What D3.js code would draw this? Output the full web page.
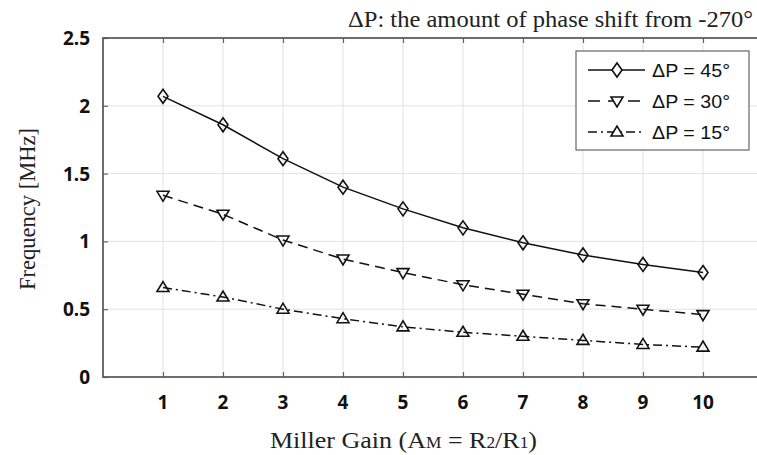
<!DOCTYPE html>
<html>
<head>
<meta charset="utf-8">
<script src="https://cdn.jsdelivr.net/npm/d3@7"></script>
<style>
	body { margin: 0; background: #fff; }
	.tick-label { font-family: "Noto Sans", sans-serif; font-weight: bold; font-size: 19px; fill: #111; }
	.serif { font-family: "Liberation Serif", serif; fill: #222; }
	.legend-text { font-family: "Liberation Sans", Arial, sans-serif; font-size: 19px; fill: #111; }
</style>
</head>
<body>
<div id="graph"></div>
<script>
const gains = [1, 2, 3, 4, 5, 6, 7, 8, 9, 10];
const dp45 = [2.07, 1.86, 1.61, 1.40, 1.24, 1.10, 0.99, 0.90, 0.83, 0.77];
const dp30 = [1.34, 1.20, 1.01, 0.87, 0.77, 0.68, 0.61, 0.54, 0.50, 0.46];
const dp15 = [0.66, 0.59, 0.50, 0.43, 0.37, 0.33, 0.30, 0.27, 0.24, 0.22];
const yTicks = [0, 0.5, 1, 1.5, 2, 2.5];
const seriesNames = ["\u0394P = 45\u00b0", "\u0394P = 30\u00b0", "\u0394P = 15\u00b0"];

const W = 757, H = 455;
const xScale = d3.scaleLinear().domain([0, 11]).range([103, 763]);
const yScale = d3.scaleLinear().domain([0, 2.5]).range([377, 38]);

const svg = d3.select("#graph").append("svg")
	.attr("width", W)
	.attr("height", H);

// grid
svg.append("g").selectAll("line")
	.data(gains)
	.enter().append("line")
	.attr("x1", d => xScale(d)).attr("x2", d => xScale(d))
	.attr("y1", yScale(0)).attr("y2", yScale(2.5))
	.attr("stroke", "#e2e2e2").attr("stroke-width", 1);

svg.append("g").selectAll("line")
	.data(yTicks.slice(1, -1))
	.enter().append("line")
	.attr("x1", xScale(0)).attr("x2", xScale(11))
	.attr("y1", d => yScale(d)).attr("y2", d => yScale(d))
	.attr("stroke", "#e2e2e2").attr("stroke-width", 1);

// axes: d3 axes for the tick marks, labels drawn separately
const xAxisB = d3.axisBottom(xScale).tickValues(gains).tickSize(-5).tickFormat("");
const xAxisT = d3.axisTop(xScale).tickValues(gains).tickSize(-5).tickFormat("");
const yAxisL = d3.axisLeft(yScale).tickValues(yTicks).tickSize(-5).tickFormat("");
const yAxisR = d3.axisRight(yScale).tickValues(yTicks).tickSize(-5).tickFormat("");

function styleAxis(g) {
	g.select(".domain").remove();
	g.selectAll(".tick line").attr("stroke", "#666").attr("stroke-width", 1.2);
}

svg.append("g").attr("transform", "translate(0," + yScale(0) + ")").call(xAxisB).call(styleAxis);
svg.append("g").attr("transform", "translate(0," + yScale(2.5) + ")").call(xAxisT).call(styleAxis);
svg.append("g").attr("transform", "translate(" + xScale(0) + ",0)").call(yAxisL).call(styleAxis);
svg.append("g").attr("transform", "translate(" + xScale(11) + ",0)").call(yAxisR).call(styleAxis);

svg.append("rect")
	.attr("x", xScale(0)).attr("y", yScale(2.5))
	.attr("width", xScale(11) - xScale(0)).attr("height", yScale(0) - yScale(2.5))
	.attr("fill", "none").attr("stroke", "#555").attr("stroke-width", 1.7);

// tick labels
svg.append("g").selectAll("text")
	.data(gains)
	.enter().append("text")
	.attr("class", "tick-label")
	.attr("x", d => xScale(d))
	.attr("y", 409)
	.attr("text-anchor", "middle")
	.text(d => d);

svg.append("g").selectAll("text")
	.data(yTicks)
	.enter().append("text")
	.attr("class", "tick-label")
	.attr("x", 90)
	.attr("y", d => yScale(d) + 7)
	.attr("text-anchor", "end")
	.text(d => d);

// series
const series = [
	{name: seriesNames[0], values: dp45, dash: null, legendDash: null, marker: "diamond"},
	{name: seriesNames[1], values: dp30, dash: "10,6", legendDash: "12,8", marker: "down"},
	{name: seriesNames[2], values: dp15, dash: "9,4,2,4", legendDash: "9,4,2,4", marker: "up"}
];

function markerPath(type) {
	if (type === "diamond") return "M0,-7L5,0L0,7L-5,0Z";
	if (type === "down") return "M-6,-4L6,-4L0,6Z";
	return "M-6,4L6,4L0,-6Z";
}

const line = d3.line()
	.x((d, i) => xScale(gains[i]))
	.y(d => yScale(d));

series.forEach(s => {
	svg.append("path")
		.datum(s.values)
		.attr("d", line)
		.attr("fill", "none")
		.attr("stroke", "#111")
		.attr("stroke-width", 1.5)
		.attr("stroke-dasharray", s.dash);

	svg.append("g").selectAll("path")
		.data(s.values)
		.enter().append("path")
		.attr("d", markerPath(s.marker))
		.attr("transform", (d, i) => "translate(" + xScale(gains[i]) + "," + yScale(d) + ")")
		.attr("fill", "none")
		.attr("stroke", "#111")
		.attr("stroke-width", 1.6);
});

// legend
const legend = svg.append("g");
legend.append("rect")
	.attr("x", 576).attr("y", 51)
	.attr("width", 173).attr("height", 99)
	.attr("fill", "#fff")
	.attr("stroke", "#666")
	.attr("stroke-width", 1.2);

series.forEach((s, i) => {
	const y = 70 + i * 31;
	legend.append("line")
		.attr("x1", 588).attr("x2", 645)
		.attr("y1", y).attr("y2", y)
		.attr("stroke", "#111")
		.attr("stroke-width", 1.5)
		.attr("stroke-dasharray", s.legendDash);
	legend.append("path")
		.attr("d", markerPath(s.marker))
		.attr("transform", "translate(617," + y + ")")
		.attr("fill", "#fff")
		.attr("stroke", "#111")
		.attr("stroke-width", 1.6);
	legend.append("text")
		.attr("class", "legend-text")
		.attr("x", 652)
		.attr("y", y + 7)
		.attr("textLength", 78)
		.attr("lengthAdjust", "spacingAndGlyphs")
		.text(s.name);
});

// titles
svg.append("text")
	.attr("class", "serif")
	.attr("x", 348)
	.attr("y", 27)
	.attr("textLength", 405)
	.attr("lengthAdjust", "spacingAndGlyphs")
	.style("font-size", "23px")
	.text("\u0394P: the amount of phase shift from -270\u00b0");

svg.append("text")
	.attr("class", "serif")
	.attr("transform", "rotate(-90)")
	.attr("x", -290)
	.attr("y", 35)
	.attr("textLength", 162)
	.attr("lengthAdjust", "spacingAndGlyphs")
	.style("font-size", "23px")
	.text("Frequency [MHz]");

const xl = svg.append("text")
	.attr("class", "serif")
	.attr("x", 270)
	.attr("y", 448)
	.attr("textLength", 267)
	.attr("lengthAdjust", "spacingAndGlyphs")
	.style("font-size", "24px");
xl.append("tspan").text("Miller Gain (A");
xl.append("tspan").style("font-size", "16px").text("M");
xl.append("tspan").text(" = R");
xl.append("tspan").style("font-size", "16px").text("2");
xl.append("tspan").text("/R");
xl.append("tspan").style("font-size", "16px").text("1");
xl.append("tspan").text(")");
</script>
</body>
</html>
